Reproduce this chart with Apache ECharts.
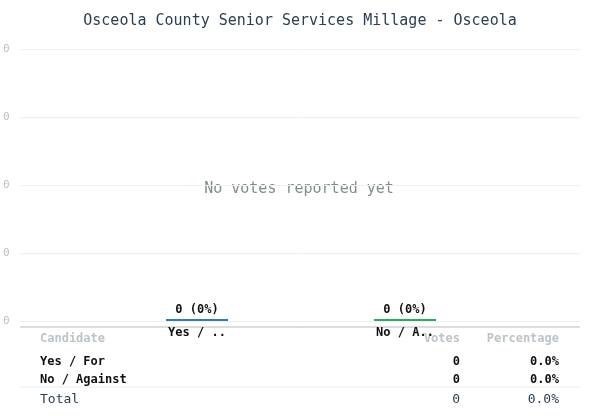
<!DOCTYPE html><html><head><meta charset="utf-8"><script src="https://cdn.jsdelivr.net/npm/echarts@6/dist/echarts.min.js"></script>
<style>html,body{margin:0;background:#fff}#c{width:600px;height:416px}</style></head><body><div id="c"></div><script>
const categories=['Yes / ..','No / A..'];
const votes=[0,0];
const colors=['#2980b9','#27ae60'];
const rows=[['Yes / For','0','0.0%'],['No / Against','0','0.0%']];
const total=['Total','0','0.0%'];
const F='DejaVu Sans Mono';
const g=[];
g.push({type:'line',shape:{x1:20,y1:327,x2:580,y2:327},style:{stroke:'#bbb',lineWidth:1}});
g.push({type:'text',x:299,y:189,style:{text:'No votes reported yet',font:'15px '+F,fill:'#7f8c8d',align:'center',verticalAlign:'middle'}});
const hy=339;
g.push({type:'text',x:40,y:hy,style:{text:'Candidate',font:'bold 12px '+F,fill:'#bdc3c7',verticalAlign:'middle'}});
g.push({type:'text',x:460,y:hy,style:{text:'Votes',font:'bold 12px '+F,fill:'#bdc3c7',align:'right',verticalAlign:'middle'}});
g.push({type:'text',x:559,y:hy,style:{text:'Percentage',font:'bold 12px '+F,fill:'#bdc3c7',align:'right',verticalAlign:'middle'}});
rows.forEach((r,i)=>{const y=362+i*18;
g.push({type:'text',x:40,y:y,style:{text:r[0],font:'bold 12px '+F,fill:'#111',verticalAlign:'middle'}});
g.push({type:'text',x:460,y:y,style:{text:r[1],font:'bold 12px '+F,fill:'#111',align:'right',verticalAlign:'middle'}});
g.push({type:'text',x:559,y:y,style:{text:r[2],font:'bold 12px '+F,fill:'#111',align:'right',verticalAlign:'middle'}});});
g.push({type:'line',shape:{x1:20,y1:387,x2:580,y2:387},style:{stroke:'#e8ecef',lineWidth:1}});
g.push({type:'text',x:40,y:400,style:{text:total[0],font:'13px '+F,fill:'#2c3e50',verticalAlign:'middle'}});
g.push({type:'text',x:460,y:400,style:{text:total[1],font:'13px '+F,fill:'#2c3e50',align:'right',verticalAlign:'middle'}});
g.push({type:'text',x:559,y:400,style:{text:total[2],font:'13px '+F,fill:'#2c3e50',align:'right',verticalAlign:'middle'}});
const ch=echarts.init(document.getElementById('c'));
ch.setOption({animation:false,
title:{text:'Osceola County Senior Services Millage - Osceola',left:'center',top:9,textStyle:{fontFamily:F,fontSize:15,fontWeight:'normal',color:'#2c3e50'}},
grid:[{left:20,right:20,top:49,height:272},{left:93,width:416,top:49,height:272}],
xAxis:[{gridIndex:0,type:'value',show:false},{gridIndex:1,type:'category',data:categories,axisLine:{show:false},axisTick:{show:false},axisLabel:{fontFamily:F,fontSize:12,fontWeight:'bold',color:'#111',margin:6}}],
yAxis:[{gridIndex:0,type:'value',min:0,max:4,interval:1,axisLine:{show:false},axisTick:{show:false},splitLine:{lineStyle:{color:'#eef0f2'}},axisLabel:{formatter:()=>'0',fontFamily:F,fontSize:11,color:'#bbb',margin:11}},
{gridIndex:1,type:'value',min:0,max:4,show:false}],
series:[{type:'bar',xAxisIndex:1,yAxisIndex:1,barWidth:62,barMinHeight:2,data:votes.map((v,i)=>({value:v,itemStyle:{color:colors[i]}})),
label:{show:true,position:'top',formatter:p=>p.value+' (0%)',fontFamily:F,fontSize:12,fontWeight:'bold',color:'#111',distance:3}}],
graphic:g});
</script></body></html>
